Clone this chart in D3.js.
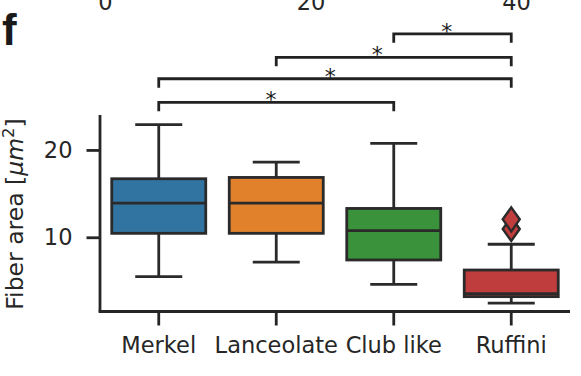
<!DOCTYPE html>
<html>
<head>
<meta charset="utf-8">
<script src="https://cdn.jsdelivr.net/npm/d3@7"></script>
<style>
  html, body { margin: 0; padding: 0; background: #fff; }
  svg { display: block; }
  text { font-family: "DejaVu Sans", sans-serif; fill: #262626; }
</style>
</head>
<body>
<svg id="chart" width="581" height="376"></svg>
<script>
// ---- data ----
const categories = ["Merkel", "Lanceolate", "Club like", "Ruffini"];
const whiskerLow  = [5.5, 7.15, 4.6, 2.45];
const q1          = [10.45, 10.45, 7.4, 3.2];
const median      = [13.9, 13.9, 10.75, 3.55];
const q3          = [16.7, 16.85, 13.3, 6.25];
const whiskerHigh = [22.9, 18.6, 20.75, 9.2];
const outlierCat  = ["Ruffini", "Ruffini"];
const outlierVal  = [12.05, 10.95];
const colors = ["#3274a1", "#e1812c", "#3a923a", "#c03d3e"];
const yTicks = [10, 20];
// significance brackets: [from, to], level (in data units), star position (category units)
const sigFrom  = ["Club like", "Lanceolate", "Merkel", "Merkel"];
const sigTo    = ["Ruffini", "Ruffini", "Ruffini", "Club like"];
const sigLevel = [33.3, 30.6, 28.15, 25.45];
const sigStarX = [2.45, 1.86, 1.46, 0.955];
const sigLabel = ["*", "*", "*", "*"];
// partial axis of the panel above
const topTicks = [0, 20, 40];

const svg = d3.select("#chart");
const ink = "#262626";
const boxInk = "#2a2a2a";
const fs = "22.5px";

const x = d3.scaleBand().domain(categories).range([100, 570]).paddingInner(0).paddingOuter(0);
const xc = c => x(c) + x.bandwidth() / 2;
const xi = d3.scaleLinear().domain([-0.5, 3.5]).range([100, 570]);
const y = d3.scaleLinear().domain([1.5, 24]).range([311.5, 115]);

// panel label
svg.append("text").attr("x", 2).attr("y", 45)
  .style("font-family", "'Liberation Sans', Arial, sans-serif")
  .style("font-weight", "bold").style("font-size", "44px").style("fill", "#1a1a1a")
  .text("f");

// partial axis above (cut off at the top edge, as in the reference)
const xt = d3.scaleLinear().domain([0, 40]).range([105.5, 516.5]);
svg.append("g").selectAll("text").data(topTicks).join("text")
  .attr("x", d => xt(d)).attr("y", 10).attr("text-anchor", "middle")
  .style("font-size", fs).text(d => d);

// axes
const yAxis = d3.axisLeft(y).tickValues(yTicks).tickSize(13.5).tickPadding(14);
const gy = svg.append("g").attr("transform", "translate(100,0)").call(yAxis);
gy.select(".domain").remove();
gy.selectAll(".tick line").attr("stroke", ink).attr("stroke-width", 2.8);
gy.selectAll(".tick text").style("font-size", fs).style("font-family", "'DejaVu Sans', sans-serif").attr("fill", ink);

const xAxis = d3.axisBottom(x).tickSize(14).tickPadding(12);
const gx = svg.append("g").attr("transform", "translate(0,311.5)").call(xAxis);
gx.select(".domain").remove();
gx.selectAll(".tick line").attr("stroke", ink).attr("stroke-width", 2.8);
gx.selectAll(".tick text").style("font-size", fs).style("font-family", "'DejaVu Sans', sans-serif").attr("fill", ink);

// spines
svg.append("line").attr("x1", 100).attr("x2", 100).attr("y1", 115).attr("y2", 311.5)
  .attr("stroke", ink).attr("stroke-width", 2.8);
svg.append("line").attr("x1", 98.6).attr("x2", 570).attr("y1", 311.5).attr("y2", 311.5)
  .attr("stroke", ink).attr("stroke-width", 2.8);

// y label
const yl = svg.append("text").attr("transform", "translate(23,214) rotate(-90)")
  .attr("text-anchor", "middle").style("font-size", "23.5px");
yl.append("tspan").text("Fiber area [");
yl.append("tspan").style("font-style", "italic").text("μm");
yl.append("tspan").attr("dy", -9).style("font-size", "16.5px").text("2");
yl.append("tspan").attr("dy", 9).text("]");

// boxes
const boxW = x.bandwidth() * 0.8;
const capW = boxW / 2;
const g = svg.append("g");
categories.forEach((c, i) => {
  const cx = xc(c);
  // whiskers
  g.append("line").attr("x1", cx).attr("x2", cx).attr("y1", y(q3[i])).attr("y2", y(whiskerHigh[i]))
    .attr("stroke", boxInk).attr("stroke-width", 2.8);
  g.append("line").attr("x1", cx).attr("x2", cx).attr("y1", y(q1[i])).attr("y2", y(whiskerLow[i]))
    .attr("stroke", boxInk).attr("stroke-width", 2.8);
  g.append("line").attr("x1", cx - capW / 2).attr("x2", cx + capW / 2)
    .attr("y1", y(whiskerHigh[i])).attr("y2", y(whiskerHigh[i]))
    .attr("stroke", boxInk).attr("stroke-width", 2.8);
  g.append("line").attr("x1", cx - capW / 2).attr("x2", cx + capW / 2)
    .attr("y1", y(whiskerLow[i])).attr("y2", y(whiskerLow[i]))
    .attr("stroke", boxInk).attr("stroke-width", 2.8);
  // box
  g.append("rect").attr("x", cx - boxW / 2).attr("width", boxW)
    .attr("y", y(q3[i])).attr("height", y(q1[i]) - y(q3[i]))
    .attr("fill", colors[i]).attr("stroke", boxInk).attr("stroke-width", 2.8);
  // median
  g.append("line").attr("x1", cx - boxW / 2).attr("x2", cx + boxW / 2)
    .attr("y1", y(median[i])).attr("y2", y(median[i]))
    .attr("stroke", boxInk).attr("stroke-width", 2.8);
});

// outliers (thin diamonds), draw lower first
const order = d3.range(outlierVal.length).sort((a, b) => outlierVal[a] - outlierVal[b]);
order.forEach(k => {
  const c = outlierCat[k];
  const cx = xc(c), cy = y(outlierVal[k]);
  const hw = 8.5, hh = 12;
  g.append("path")
    .attr("d", `M${cx},${cy - hh}L${cx + hw},${cy}L${cx},${cy + hh}L${cx - hw},${cy}Z`)
    .attr("fill", colors[categories.indexOf(c)]).attr("stroke", boxInk).attr("stroke-width", 2.4)
    .attr("stroke-linejoin", "miter");
});

// significance brackets
const sg = svg.append("g");
const drop = 9;
sigFrom.forEach((f, k) => {
  const x1 = xc(f), x2 = xc(sigTo[k]), ly = y(sigLevel[k]);
  sg.append("path")
    .attr("d", `M${x1},${ly + drop}L${x1},${ly}L${x2},${ly}L${x2},${ly + drop}`)
    .attr("fill", "none").attr("stroke", "#222").attr("stroke-width", 2.8);
  sg.append("text").attr("x", xi(sigStarX[k])).attr("y", ly + 5)
    .attr("text-anchor", "middle").style("font-size", "22px").style("fill", "#1a1a1a")
    .text(sigLabel[k]);
});
</script>
</body>
</html>
